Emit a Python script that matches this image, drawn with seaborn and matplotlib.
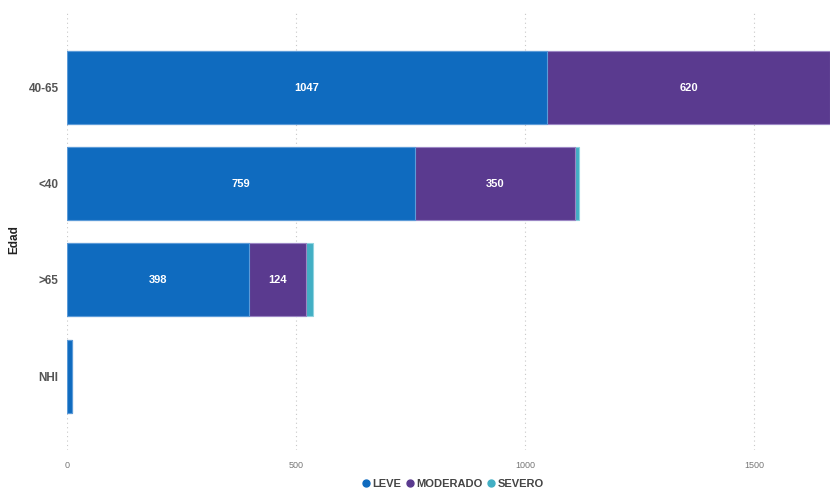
import matplotlib
matplotlib.use("Agg")
import matplotlib.pyplot as plt
from matplotlib.lines import Line2D
import seaborn as sns
import numpy as np

# data
edad = ["40-65", "<40", ">65", "NHI"]
leve = [1047, 759, 398, 11]
moderado = [620, 350, 124, 1]
severo = [5, 9, 15, 0]
series_names = ["LEVE", "MODERADO", "SEVERO"]
colors = ["#0F6BBF", "#5A3A8F", "#42AFC4"]
edges = ["#5C9BD8", "#9C86C4", "#8FD3DF"]

sns.set_theme(style="white")
plt.rcParams["font.family"] = ["Liberation Sans", "DejaVu Sans"]

fig = plt.figure(figsize=(8.3, 4.88), dpi=100)
ax = fig.add_axes([67 / 830, 38 / 488, 1 - 67 / 830, 440 / 488])

lv = np.array(leve)
md = np.array(moderado)
sv = np.array(severo)
stacks = [lv, lv + md, lv + md + sv]

# draw the totals first, then overlay the shorter cumulative bars
for i in [2, 1, 0]:
    sns.barplot(x=stacks[i], y=edad, orient="h", color=colors[i], width=0.76,
                edgecolor=edges[i], linewidth=0.8, saturation=1, ax=ax, zorder=2)

# value labels inside the big segments
for j, cat in enumerate(edad):
    if leve[j] > 60:
        ax.text(leve[j] / 2, j, str(leve[j]), ha="center", va="center",
                color="white", fontsize=8, fontweight="bold", zorder=5)
    if moderado[j] > 60:
        ax.text(leve[j] + moderado[j] / 2, j, str(moderado[j]), ha="center", va="center",
                color="white", fontsize=8, fontweight="bold", zorder=5)

ax.set_xlim(0, 1666)
ax.set_ylim(3.77, -0.81)
ax.set_xticks([0, 500, 1000, 1500])
ax.xaxis.grid(True, linestyle=(0, (1, 3)), color="#C8C8C8", linewidth=0.8, zorder=0)
ax.set_axisbelow(True)
for s in ax.spines.values():
    s.set_visible(False)
ax.tick_params(axis="x", labelsize=6.5, labelcolor="#777777", length=0, pad=8)
ax.tick_params(axis="y", labelsize=8.5, labelcolor="#555555", length=0, pad=6)
for t in ax.get_yticklabels():
    t.set_fontweight("bold")
ax.set_xlabel("")
ax.set_ylabel("")
fig.text(14 / 830, 1 - 240 / 488, "Edad", rotation=90, ha="center", va="center",
         fontsize=8.5, fontweight="bold", color="#222222")

handles = [Line2D([0], [0], marker="o", linestyle="", markersize=5,
                  markerfacecolor=c, markeredgecolor=c) for c in colors]
leg = fig.legend(handles, series_names, loc="lower center", bbox_to_anchor=(0.546, -0.022),
                 ncol=3, frameon=False, handlelength=0.6, handletextpad=0.25,
                 columnspacing=0.5, prop={"size": 8, "weight": "bold"})
for t in leg.get_texts():
    t.set_color("#444444")

fig.savefig("out.png", dpi=100)
